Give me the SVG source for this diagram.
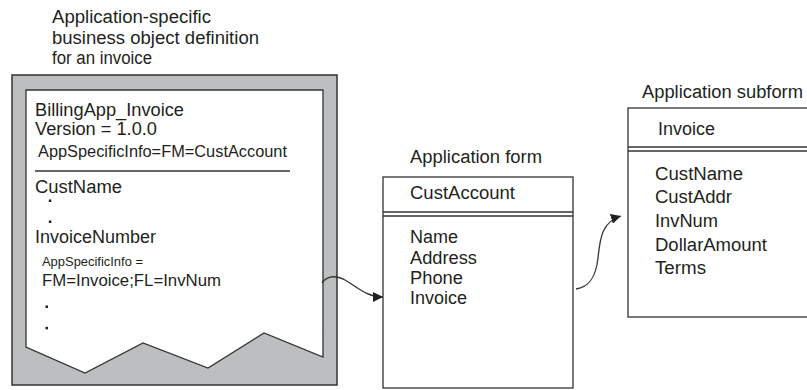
<svg xmlns="http://www.w3.org/2000/svg" width="807" height="390" viewBox="0 0 807 390">
<style>
text{font-family:"Liberation Sans",Arial,Helvetica,sans-serif;font-size:18px;fill:#231f20}
.s{font-size:16px}
.s2{font-size:13px}
.s3{font-size:16.5px}
.ln{stroke:#333;stroke-width:1.3;fill:none}
.box{fill:#fff;stroke:#333;stroke-width:1.3}
.dot{fill:#231f20}
</style>
<defs>
<marker id="ah" viewBox="0 0 10 10" refX="10" refY="5" markerWidth="10" markerHeight="10" markerUnits="userSpaceOnUse" orient="auto">
<path d="M0,0 L10,5 L0,10 Z" fill="#231f20"/>
</marker>
</defs>
<rect width="807" height="390" fill="#fff"/>
<g id="bo-title">
<text x="52" y="23" textLength="159" lengthAdjust="spacingAndGlyphs">Application-specific</text>
<text x="52" y="44" textLength="207" lengthAdjust="spacingAndGlyphs">business object definition</text>
<text x="52" y="64" textLength="100" lengthAdjust="spacingAndGlyphs">for an invoice</text>
</g>
<g id="business-object">
<rect x="12" y="75" width="325" height="310" fill="#bcbec0" stroke="#333" stroke-width="1.5"/>
<polygon points="26,90 323,90 323,357 264,333 208,368 143,343 85,373 26,347" fill="#fff" stroke="#333" stroke-width="1.3"/>
<text x="35" y="116" textLength="149" lengthAdjust="spacingAndGlyphs">BillingApp_Invoice</text>
<text x="35" y="135" textLength="122" lengthAdjust="spacingAndGlyphs">Version = 1.0.0</text>
<text class="s" x="38" y="157" textLength="249" lengthAdjust="spacingAndGlyphs">AppSpecificInfo=FM=CustAccount</text>
<line class="ln" x1="35" y1="171" x2="290" y2="171"/>
<text x="35" y="193" textLength="87" lengthAdjust="spacingAndGlyphs">CustName</text>
<rect class="dot" x="48.8" y="199.5" width="2.5" height="2.5"/>
<rect class="dot" x="48.8" y="220.5" width="2.5" height="2.5"/>
<text x="35" y="243" textLength="121" lengthAdjust="spacingAndGlyphs">InvoiceNumber</text>
<text class="s2" x="42" y="266" textLength="101" lengthAdjust="spacingAndGlyphs">AppSpecificInfo =</text>
<text class="s3" x="42" y="286" textLength="179" lengthAdjust="spacingAndGlyphs">FM=Invoice;FL=InvNum</text>
<rect class="dot" x="45.5" y="305.5" width="2.5" height="2.5"/>
<rect class="dot" x="45.5" y="326.8" width="2.5" height="2.5"/>
</g>
<g id="app-form">
<text x="410" y="163" textLength="132" lengthAdjust="spacingAndGlyphs">Application form</text>
<rect class="box" x="383" y="177" width="190" height="211"/>
<text x="410" y="199" textLength="105" lengthAdjust="spacingAndGlyphs">CustAccount</text>
<line class="ln" x1="383" y1="212" x2="573" y2="212"/>
<line class="ln" x1="383" y1="216" x2="573" y2="216"/>
<text x="410" y="243" textLength="48" lengthAdjust="spacingAndGlyphs">Name</text>
<text x="410" y="264" textLength="67" lengthAdjust="spacingAndGlyphs">Address</text>
<text x="410" y="284" textLength="53" lengthAdjust="spacingAndGlyphs">Phone</text>
<text x="410" y="303.5" textLength="57" lengthAdjust="spacingAndGlyphs">Invoice</text>
</g>
<g id="app-subform">
<text x="642" y="98" textLength="161" lengthAdjust="spacingAndGlyphs">Application subform</text>
<rect class="box" x="628" y="108" width="200" height="209"/>
<text x="658" y="135" textLength="57" lengthAdjust="spacingAndGlyphs">Invoice</text>
<line class="ln" x1="628" y1="147" x2="807" y2="147"/>
<line class="ln" x1="628" y1="151" x2="807" y2="151"/>
<text x="655" y="180" textLength="88" lengthAdjust="spacingAndGlyphs">CustName</text>
<text x="655" y="203" textLength="77" lengthAdjust="spacingAndGlyphs">CustAddr</text>
<text x="655" y="227" textLength="63" lengthAdjust="spacingAndGlyphs">InvNum</text>
<text x="655" y="251" textLength="112" lengthAdjust="spacingAndGlyphs">DollarAmount</text>
<text x="655" y="274" textLength="51" lengthAdjust="spacingAndGlyphs">Terms</text>
</g>
<g id="connectors">
<path class="ln" d="M322,283 C327,276 335,275 345,280 C356,286 366,297 383,297" stroke-width="1.2" marker-end="url(#ah)"/>
<path class="ln" d="M576,289 C590,287 596,276 598,258 C600,240 601,222 621,216" stroke-width="1.2" marker-end="url(#ah)"/>
</g>
</svg>
